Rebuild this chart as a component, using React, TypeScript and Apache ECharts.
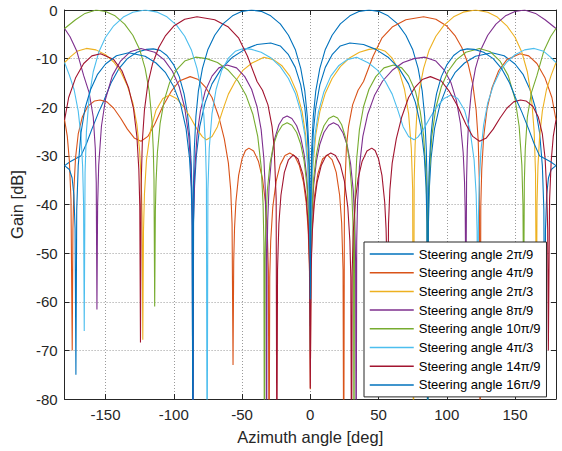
import React, { useEffect, useRef } from "react";
import * as echarts from "echarts";

type P = [number, number][];

const seriesNames = [
  "Steering angle 2\u03c0/9",
  "Steering angle 4\u03c0/9",
  "Steering angle 2\u03c0/3",
  "Steering angle 8\u03c0/9",
  "Steering angle 10\u03c0/9",
  "Steering angle 4\u03c0/3",
  "Steering angle 14\u03c0/9",
  "Steering angle 16\u03c0/9",
];

const colors = ["#0072BD", "#D95319", "#EDB120", "#7E2F8E", "#77AC30", "#4DBEEE", "#A2142F", "#0072BD"];

const xTicks = [-150, -100, -50, 0, 50, 100, 150];

const s1: P = [[-180,-32],[-176,-31.2],[-172,-30.6],[-168,-30],[-164,-27.5],[-160,-24.5],[-155,-21],[-151,-18.5],[-146,-15],[-140,-12],[-134,-10],[-127,-8.7],[-120,-8.1],[-115,-8],[-110,-8.3],[-105,-9.35],[-100,-11.3],[-96,-13.7],[-92.5,-17.2],[-90,-21.3],[-88.3,-26.1],[-87.2,-31.8],[-86.5,-39.4],[-86,-100],[-85.5,-43.9],[-84.8,-36.3],[-83.5,-30],[-81,-24],[-77,-19],[-72,-15.2],[-65,-12],[-57,-9.7],[-48,-8.1],[-39,-7.1],[-29,-6.8],[-22,-7.4],[-16,-9.2],[-11,-11.8],[-7,-15.4],[-4,-20.1],[-2.2,-25.2],[-1,-32.1],[-0.4,-40.1],[0,-59.5],[0.4,-36.6],[1,-28.8],[2.2,-21.9],[4,-16.7],[7,-12],[11,-8.1],[16,-5.2],[22,-2.85],[29,-1.2],[36,-0.28],[43,0],[50,-0.28],[57,-1.2],[64,-2.85],[70,-5.2],[75,-8.1],[79,-12],[82,-16.7],[83.8,-21.9],[85,-28.8],[85.6,-36.6],[86,-100],[86.5,-44.4],[87.2,-36.7],[88.5,-30.4],[91,-24.4],[95,-19.4],[100,-15.8],[106,-12.9],[113,-10.9],[121,-9.5],[133,-8.8],[142,-9.4],[150,-11.1],[156,-13.3],[161,-16.4],[165,-20.2],[168,-25.3],[170,-32],[171.1,-41.1],[171.7,-75],[172.3,-45],[173.2,-38],[174.5,-34.5],[176.5,-32.8],[180,-32]];

const s2: P = [[-180,-22.6],[-178,-26],[-176.5,-31],[-175.3,-39],[-174.4,-70],[-173.9,-45],[-173.2,-37],[-172,-30.5],[-170,-25.5],[-167,-22],[-163,-19.8],[-158,-18.7],[-154,-18.5],[-149,-18.9],[-144,-20.2],[-139,-22.2],[-134,-24.5],[-129,-26.3],[-124,-27],[-119,-26],[-114,-23.5],[-108,-19.8],[-102,-16.8],[-96,-14.6],[-88,-13.7],[-82,-14.3],[-77,-15.8],[-72,-18],[-67,-22],[-63,-26.5],[-60,-31.5],[-58.3,-37],[-57.3,-44],[-56.6,-73],[-56.1,-51.7],[-55.5,-44.9],[-54.5,-39.5],[-52.5,-34],[-50,-30.6],[-47.5,-28.9],[-45,-28.4],[-41.5,-29],[-38,-31.1],[-35,-34.7],[-33,-39.2],[-31.5,-45.6],[-30.7,-53.7],[-30.2,-100],[-29.7,-55],[-29,-47.5],[-27.5,-40.6],[-25,-35.2],[-22,-31.8],[-18.5,-29.9],[-15,-29.4],[-11.5,-30],[-8,-32],[-5,-35.4],[-3,-39.6],[-1.5,-45.5],[-0.6,-53.4],[0,-78],[0.6,-52.2],[1.5,-44.3],[3,-38.4],[5.5,-33.7],[9,-30.65],[12.5,-29.8],[16,-30.8],[19,-33.4],[21.5,-38.1],[23,-43.9],[24,-53.4],[24.5,-100],[25,-38.8],[25.6,-34.5],[26.5,-28],[28,-24],[31,-19.5],[35,-16.5],[39,-14.7],[46,-9.5],[52.4,-5.8],[60,-3.5],[70,-2],[83,-1.4],[92,-1.9],[100,-3.3],[106,-5.25],[111,-7.7],[115.5,-11],[119,-15.2],[121.5,-20.6],[123,-26.8],[123.9,-35.8],[124.4,-100],[124.9,-40.4],[125.6,-32.8],[127,-26.1],[129.5,-20.3],[133,-16.1],[138,-12.5],[144,-10.2],[153.6,-9],[160,-9.44],[166,-11],[172,-14],[177,-18],[180,-22.6]];

const s3: P = [[-180,-10.8],[-176,-9.7],[-171,-8.5],[-164,-7.9],[-157,-8.2],[-150,-9.2],[-144,-10.7],[-139,-12.6],[-134,-15.6],[-130,-19.1],[-127,-23.6],[-125,-29],[-123.8,-35.4],[-123.2,-42.4],[-122.7,-67.8],[-122.2,-45.5],[-121.5,-37.9],[-120,-30.8],[-117,-24.7],[-113,-20.6],[-108,-18.2],[-103,-17.5],[-98,-18.2],[-93,-19.8],[-88,-22],[-83,-24.5],[-79,-26.1],[-76,-26.7],[-72,-26],[-68,-24],[-64,-20.5],[-60,-17.3],[-55,-14.7],[-49,-12.3],[-42.7,-10.9],[-34,-9.7],[-27,-10.2],[-21,-11.4],[-15,-13.6],[-10,-16.8],[-6,-20.9],[-3.5,-25.5],[-2,-30.4],[-1,-36.4],[-0.4,-44.3],[0,-70],[0.4,-45.7],[1,-37.8],[2,-31.7],[4,-25.7],[7,-20.9],[11,-17.1],[16,-14.1],[22,-11.65],[29,-9.8],[36,-8.7],[43,-8.1],[49,-7.9],[55,-8.5],[60,-9.9],[65,-12.5],[69,-16.3],[72,-21.3],[74,-28.4],[75,-36.9],[75.6,-100],[76.1,-35.2],[76.8,-27.7],[78,-21.6],[80,-16.3],[83,-12],[87,-8.3],[92,-5.4],[98,-3.1],[105,-1.4],[112,-0.44],[121,0],[130,-0.45],[137,-1.45],[144,-3.25],[150,-5.6],[155,-8.7],[159,-12.7],[162,-17.9],[164,-25],[165,-33.5],[165.6,-66],[166.1,-39.7],[166.8,-32],[168,-26],[170,-20.8],[173,-16.4],[176.5,-13.4],[180,-10.8]];

const s4: P = [[-180,-3.8],[-176,-5.5],[-171,-8.5],[-166,-13.5],[-162,-17],[-159,-22],[-157.5,-28.5],[-156.8,-35.5],[-156.3,-61.6],[-155.8,-40.2],[-155,-31.9],[-153,-23.9],[-150,-18.3],[-145,-13.5],[-139,-10.5],[-132,-8.6],[-124,-7.9],[-114,-8.7],[-107,-10.25],[-101,-12.6],[-96,-15.8],[-92,-20.1],[-89,-26],[-87.3,-33.2],[-86.5,-41.6],[-86,-100],[-85.6,-43.3],[-84.8,-33.7],[-83,-25.8],[-80.5,-20.8],[-77,-16.7],[-72,-13.6],[-67,-11.9],[-61,-11.3],[-54,-11.9],[-48,-13.7],[-43,-16.3],[-39,-19.9],[-36,-24.6],[-34,-30.6],[-33,-36.6],[-32.4,-44.6],[-32,-100],[-31.7,-51.8],[-31.2,-43.4],[-30.2,-36.3],[-28.5,-30.7],[-26,-26.4],[-23,-23.6],[-20,-22.2],[-17,-21.8],[-13.5,-22.3],[-10,-23.8],[-7,-26.2],[-4.5,-29.7],[-2.5,-34.6],[-1.2,-41],[-0.5,-48.5],[0,-65],[0.5,-49.9],[1.2,-42.4],[2.5,-36],[4.5,-31.1],[7,-27.6],[10,-25.2],[13.5,-23.7],[17,-23.2],[20.5,-23.7],[24,-25.3],[27,-27.8],[29.5,-31.6],[31.5,-37.2],[32.6,-43.7],[33.2,-51.6],[33.6,-100],[34,-47.7],[34.6,-39.8],[36,-32.2],[38.5,-26],[42,-21.5],[47,-17.6],[53,-14.6],[60,-12.4],[68,-10.8],[76,-10],[84,-9.7],[92,-10.5],[98,-12.3],[103,-14.9],[107,-18.6],[110,-23.3],[112,-29.3],[113,-35.4],[113.5,-41.4],[114,-61],[114.5,-34.8],[115,-28.8],[116,-22.7],[118,-16.7],[121,-12],[125,-8.1],[130,-5.2],[136,-2.9],[143,-1.2],[150,-0.3],[157,0],[165,-0.7],[172,-2],[180,-3.8]];

const s5: P = [[-180,-3.8],[-172,-2],[-165,-0.7],[-157,0],[-150,-0.3],[-143,-1.2],[-136,-2.9],[-130,-5.2],[-125,-8.1],[-121,-12],[-118,-16.7],[-116,-22.7],[-115,-28.8],[-114.5,-34.8],[-114,-61],[-113.5,-41.4],[-113,-35.4],[-112,-29.3],[-110,-23.3],[-107,-18.6],[-103,-14.9],[-98,-12.3],[-92,-10.5],[-84,-9.7],[-76,-10],[-68,-10.8],[-60,-12.4],[-53,-14.6],[-47,-17.6],[-42,-21.5],[-38.5,-26],[-36,-32.2],[-34.6,-39.8],[-34,-47.7],[-33.6,-100],[-33.2,-51.6],[-32.6,-43.7],[-31.5,-37.2],[-29.5,-31.6],[-27,-27.8],[-24,-25.3],[-20.5,-23.7],[-17,-23.2],[-13.5,-23.7],[-10,-25.2],[-7,-27.6],[-4.5,-31.1],[-2.5,-36],[-1.2,-42.4],[-0.5,-49.9],[0,-65],[0.5,-48.5],[1.2,-41],[2.5,-34.6],[4.5,-29.7],[7,-26.2],[10,-23.8],[13.5,-22.3],[17,-21.8],[20,-22.2],[23,-23.6],[26,-26.4],[28.5,-30.7],[30.2,-36.3],[31.2,-43.4],[31.7,-51.8],[32,-100],[32.4,-44.6],[33,-36.6],[34,-30.6],[36,-24.6],[39,-19.9],[43,-16.3],[48,-13.7],[54,-11.9],[61,-11.3],[67,-11.9],[72,-13.6],[77,-16.7],[80.5,-20.8],[83,-25.8],[84.8,-33.7],[85.6,-43.3],[86,-100],[86.5,-41.6],[87.3,-33.2],[89,-26],[92,-20.1],[96,-15.8],[101,-12.6],[107,-10.25],[114,-8.7],[124,-7.9],[132,-8.6],[139,-10.5],[145,-13.5],[150,-18.3],[153,-23.9],[155,-31.9],[155.8,-40.2],[156.3,-61.6],[156.8,-35.5],[157.5,-28.5],[159,-22],[162,-17],[166,-13.5],[171,-8.5],[176,-5.5],[180,-3.8]];

const s6: P = [[-180,-10.8],[-176.5,-13.4],[-173,-16.4],[-170,-20.8],[-168,-26],[-166.8,-32],[-166.1,-39.7],[-165.6,-66],[-165,-33.5],[-164,-25],[-162,-17.9],[-159,-12.7],[-155,-8.7],[-150,-5.6],[-144,-3.25],[-137,-1.45],[-130,-0.45],[-121,0],[-112,-0.44],[-105,-1.4],[-98,-3.1],[-92,-5.4],[-87,-8.3],[-83,-12],[-80,-16.3],[-78,-21.6],[-76.8,-27.7],[-76.1,-35.2],[-75.6,-100],[-75,-36.9],[-74,-28.4],[-72,-21.3],[-69,-16.3],[-65,-12.5],[-60,-9.9],[-55,-8.5],[-49,-7.9],[-43,-8.1],[-36,-8.7],[-29,-9.8],[-22,-11.65],[-16,-14.1],[-11,-17.1],[-7,-20.9],[-4,-25.7],[-2,-31.7],[-1,-37.8],[-0.4,-45.7],[0,-70],[0.4,-44.3],[1,-36.4],[2,-30.4],[3.5,-25.5],[6,-20.9],[10,-16.8],[15,-13.6],[21,-11.4],[27,-10.2],[34,-9.7],[42.7,-10.9],[49,-12.3],[55,-14.7],[60,-17.3],[64,-20.5],[68,-24],[72,-26],[76,-26.7],[79,-26.1],[83,-24.5],[88,-22],[93,-19.8],[98,-18.2],[103,-17.5],[108,-18.2],[113,-20.6],[117,-24.7],[120,-30.8],[121.5,-37.9],[122.2,-45.5],[122.7,-67.8],[123.2,-42.4],[123.8,-35.4],[125,-29],[127,-23.6],[130,-19.1],[134,-15.6],[139,-12.6],[144,-10.7],[150,-9.2],[157,-8.2],[164,-7.9],[171,-8.5],[176,-9.7],[180,-10.8]];

const s7: P = [[-180,-22.6],[-177,-18],[-172,-14],[-166,-11],[-160,-9.44],[-153.6,-9],[-144,-10.2],[-138,-12.5],[-133,-16.1],[-129.5,-20.3],[-127,-26.1],[-125.6,-32.8],[-124.9,-40.4],[-124.4,-68.4],[-123.9,-35.8],[-123,-26.8],[-121.5,-20.6],[-119,-15.2],[-115.5,-11],[-111,-7.7],[-106,-5.25],[-100,-3.3],[-92,-1.9],[-83,-1.4],[-70,-2],[-60,-3.5],[-52.4,-5.8],[-46,-9.5],[-39,-14.7],[-35,-16.5],[-31,-19.5],[-28,-24],[-26.5,-28],[-25.6,-34.5],[-25,-38.8],[-24.5,-100],[-24,-53.4],[-23,-43.9],[-21.5,-38.1],[-19,-33.4],[-16,-30.8],[-12.5,-29.8],[-9,-30.65],[-5.5,-33.7],[-3,-38.4],[-1.5,-44.3],[-0.6,-52.2],[0,-77.8],[0.6,-53.4],[1.5,-45.5],[3,-39.6],[5,-35.4],[8,-32],[11.5,-30],[15,-29.4],[18.5,-29.9],[22,-31.8],[25,-35.2],[27.5,-40.6],[29,-47.5],[29.7,-55],[30.2,-100],[30.7,-53.7],[31.5,-45.6],[33,-39.2],[35,-34.7],[38,-31.1],[41.5,-29],[45,-28.4],[47.5,-28.9],[50,-30.6],[52.5,-34],[54.5,-39.5],[55.5,-44.9],[56.1,-51.7],[56.6,-73],[57.3,-44],[58.3,-37],[60,-31.5],[63,-26.5],[67,-22],[72,-18],[77,-15.8],[82,-14.3],[88,-13.7],[96,-14.6],[102,-16.8],[108,-19.8],[114,-23.5],[119,-26],[124,-27],[129,-26.3],[134,-24.5],[139,-22.2],[144,-20.2],[149,-18.9],[154,-18.5],[158,-18.7],[163,-19.8],[167,-22],[170,-25.5],[172,-30.5],[173.2,-37],[173.9,-45],[174.4,-70],[175.3,-39],[176.5,-31],[178,-26],[180,-22.6]];

const s8: P = [[-180,-32],[-176.5,-32.8],[-174.5,-34.5],[-173.2,-38],[-172.3,-45],[-171.7,-75],[-171.1,-41.1],[-170,-32],[-168,-25.3],[-165,-20.2],[-161,-16.4],[-156,-13.3],[-150,-11.1],[-142,-9.4],[-133,-8.8],[-121,-9.5],[-113,-10.9],[-106,-12.9],[-100,-15.8],[-95,-19.4],[-91,-24.4],[-88.5,-30.4],[-87.2,-36.7],[-86.5,-44.4],[-86,-100],[-85.6,-36.6],[-85,-28.8],[-83.8,-21.9],[-82,-16.7],[-79,-12],[-75,-8.1],[-70,-5.2],[-64,-2.85],[-57,-1.2],[-50,-0.28],[-43,0],[-36,-0.28],[-29,-1.2],[-22,-2.85],[-16,-5.2],[-11,-8.1],[-7,-12],[-4,-16.7],[-2.2,-21.9],[-1,-28.8],[-0.4,-36.6],[0,-59.5],[0.4,-40.1],[1,-32.1],[2.2,-25.2],[4,-20.1],[7,-15.4],[11,-11.8],[16,-9.2],[22,-7.4],[29,-6.8],[39,-7.1],[48,-8.1],[57,-9.7],[65,-12],[72,-15.2],[77,-19],[81,-24],[83.5,-30],[84.8,-36.3],[85.5,-43.9],[86,-100],[86.5,-39.4],[87.2,-31.8],[88.3,-26.1],[90,-21.3],[92.5,-17.2],[96,-13.7],[100,-11.3],[105,-9.35],[110,-8.3],[115,-8],[120,-8.1],[127,-8.7],[134,-10],[140,-12],[146,-15],[151,-18.5],[155,-21],[160,-24.5],[164,-27.5],[168,-30],[172,-30.6],[176,-31.2],[180,-32]];

const allData: P[] = [s1, s2, s3, s4, s5, s6, s7, s8];

const FONT = "'Liberation Sans', Arial, Helvetica, sans-serif";
const INK = "#262626";
const GRID = "#9a9a9a";

export default function App() {
  const ref = useRef<HTMLDivElement>(null);
  useEffect(() => {
    if (!ref.current) return;
    const chart = echarts.init(ref.current, undefined, { renderer: "svg" });
    const axisLine = { show: true, onZero: false, lineStyle: { color: INK, width: 1 } };
    chart.setOption({
      animation: false,
      backgroundColor: "#ffffff",
      textStyle: { fontFamily: FONT },
      grid: { left: 64, right: 6, top: 10, bottom: 52, containLabel: false },
      xAxis: [
        {
          type: "value",
          min: -180,
          max: 180,
          position: "bottom",
          axisLine,
          axisTick: { show: true, inside: true, length: 5, customValues: xTicks, lineStyle: { color: INK } },
          axisLabel: { customValues: xTicks, color: INK, fontSize: 15, margin: 8, fontFamily: FONT },
          splitLine: { show: true, lineStyle: { color: GRID, type: [1, 2], width: 1 } },
          name: "Azimuth angle [deg]",
          nameLocation: "middle",
          nameGap: 29,
          nameTextStyle: { color: INK, fontSize: 16.5, fontFamily: FONT },
        },
        {
          type: "value",
          min: -180,
          max: 180,
          position: "top",
          axisLine,
          axisTick: { show: true, inside: true, length: 5, customValues: xTicks, lineStyle: { color: INK } },
          axisLabel: { show: false },
          splitLine: { show: false },
        },
      ],
      yAxis: [
        {
          type: "value",
          min: -80,
          max: 0,
          interval: 10,
          position: "left",
          axisLine,
          axisTick: { show: true, inside: true, length: 5, lineStyle: { color: INK } },
          axisLabel: { color: INK, fontSize: 15, margin: 7, fontFamily: FONT },
          splitLine: { show: true, lineStyle: { color: GRID, type: [1, 2], width: 1 } },
          name: "Gain [dB]",
          nameLocation: "middle",
          nameGap: 34,
          nameTextStyle: { color: INK, fontSize: 16.5, fontFamily: FONT },
        },
        {
          type: "value",
          min: -80,
          max: 0,
          interval: 10,
          position: "right",
          axisLine,
          axisTick: { show: true, inside: true, length: 5, lineStyle: { color: INK } },
          axisLabel: { show: false },
          splitLine: { show: false },
        },
      ],
      legend: {
        orient: "vertical",
        left: 364,
        top: 242,
        padding: [4, 6, 4, 5],
        itemGap: 2.7,
        itemWidth: 44,
        itemHeight: 16,
        itemStyle: { opacity: 0 },
        lineStyle: { width: 1.5 },
        backgroundColor: "#ffffff",
        borderColor: INK,
        borderWidth: 1,
        borderRadius: 0,
        textStyle: { color: "#000000", fontSize: 13, lineHeight: 16, fontFamily: FONT },
        data: seriesNames,
      },
      series: allData.map((d, i) => ({
        name: seriesNames[i],
        type: "line",
        xAxisIndex: 0,
        yAxisIndex: 0,
        data: d,
        showSymbol: false,
        symbol: "none",
        clip: true,
        smooth: false,
        color: colors[i],
        lineStyle: { color: colors[i], width: 1.1 },
        emphasis: { disabled: true },
      })),
    });
    return () => chart.dispose();
  }, []);
  return <div ref={ref} style={{ position: "absolute", left: 0, top: 0, width: 562, height: 451 }} />;
}
